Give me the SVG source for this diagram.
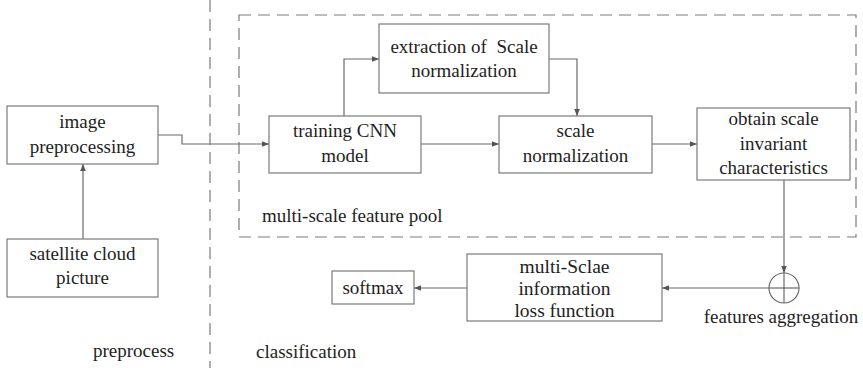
<svg xmlns="http://www.w3.org/2000/svg" width="863" height="368" viewBox="0 0 863 368">
<style>
  .box { fill: #fff; stroke: #7a7a7a; stroke-width: 1.2; }
  .t { font-family: "Liberation Serif", "DejaVu Serif", "Times New Roman", serif; font-size: 19px; fill: #1e1e1e; text-anchor: middle; }
  .ts { text-anchor: start; }
  .big { font-size: 19.5px; }
  .conn { fill: none; stroke: #6a6a6a; stroke-width: 1.2; }
  .dash { fill: none; stroke: #7a7a7a; stroke-width: 1.2; stroke-dasharray: 12 7; }
</style>
<defs>
  <marker id="arr" viewBox="0 0 10 10" refX="10" refY="5" markerWidth="7" markerHeight="7" markerUnits="userSpaceOnUse" orient="auto">
    <path d="M0,1 L10,5 L0,9 Z" fill="#555"/>
  </marker>
</defs>
<rect width="863" height="368" fill="#fff"/>

<g id="dividers">
  <line class="dash" x1="210" y1="0" x2="210" y2="368"/>
  <rect class="dash" x="239" y="15" width="617" height="222"/>
</g>

<g id="connectors">
  <path class="conn" d="M158,135 H182 V144 H269" marker-end="url(#arr)"/>
  <path class="conn" d="M83,239 V164" marker-end="url(#arr)"/>
  <path class="conn" d="M344,116 V59 H379" marker-end="url(#arr)"/>
  <path class="conn" d="M549,59 H577 V116" marker-end="url(#arr)"/>
  <path class="conn" d="M421,144 H499" marker-end="url(#arr)"/>
  <path class="conn" d="M652,144 H697" marker-end="url(#arr)"/>
  <path class="conn" d="M784,180 V273" marker-end="url(#arr)"/>
  <path class="conn" d="M769,288 H662" marker-end="url(#arr)"/>
  <path class="conn" d="M467,288 H414" marker-end="url(#arr)"/>
</g>

<g id="image-preprocessing">
  <rect class="box" x="7" y="106" width="151" height="58"/>
  <text class="t" x="82.5" y="128">image</text>
  <text class="t" x="82.5" y="153">preprocessing</text>
</g>

<g id="satellite-cloud-picture">
  <rect class="box" x="7" y="239" width="151" height="58"/>
  <text class="t" x="82.5" y="260">satellite cloud</text>
  <text class="t" x="82.5" y="284">picture</text>
</g>

<g id="training-cnn">
  <rect class="box" x="269" y="116" width="152" height="57"/>
  <text class="t" x="345" y="137">training CNN</text>
  <text class="t" x="345" y="162">model</text>
</g>

<g id="extraction">
  <rect class="box" x="379" y="24" width="170" height="69"/>
  <text class="t" x="464" y="53" style="white-space:pre">extraction of  Scale</text>
  <text class="t" x="464" y="77">normalization</text>
</g>

<g id="scale-normalization">
  <rect class="box" x="499" y="116" width="153" height="57"/>
  <text class="t" x="575.5" y="137">scale</text>
  <text class="t" x="575.5" y="162">normalization</text>
</g>

<g id="obtain-scale">
  <rect class="box" x="697" y="108" width="153" height="72"/>
  <text class="t" x="773.5" y="125">obtain scale</text>
  <text class="t" x="773.5" y="150">invariant</text>
  <text class="t" x="773.5" y="174">characteristics</text>
</g>

<g id="features-aggregation">
  <circle cx="784" cy="288" r="15" fill="#fff" stroke="#6a6a6a" stroke-width="1.2"/>
  <line x1="784" y1="273" x2="784" y2="303" stroke="#6a6a6a" stroke-width="1.2"/>
  <line x1="769" y1="288" x2="799" y2="288" stroke="#6a6a6a" stroke-width="1.2"/>
  <text class="t" x="781" y="323">features aggregation</text>
</g>

<g id="loss-function">
  <rect class="box" x="467" y="254" width="195" height="67"/>
  <text class="t big" x="564.5" y="273">multi-Sclae</text>
  <text class="t big" x="564.5" y="295">information</text>
  <text class="t big" x="564.5" y="317">loss function</text>
</g>

<g id="softmax">
  <rect class="box" x="332" y="271" width="82" height="33"/>
  <text class="t" x="373" y="294">softmax</text>
</g>

<g id="labels">
  <text class="t ts" x="262" y="222">multi-scale feature pool</text>
  <text class="t ts" x="93" y="357">preprocess</text>
  <text class="t ts" x="256" y="358">classification</text>
</g>
</svg>
